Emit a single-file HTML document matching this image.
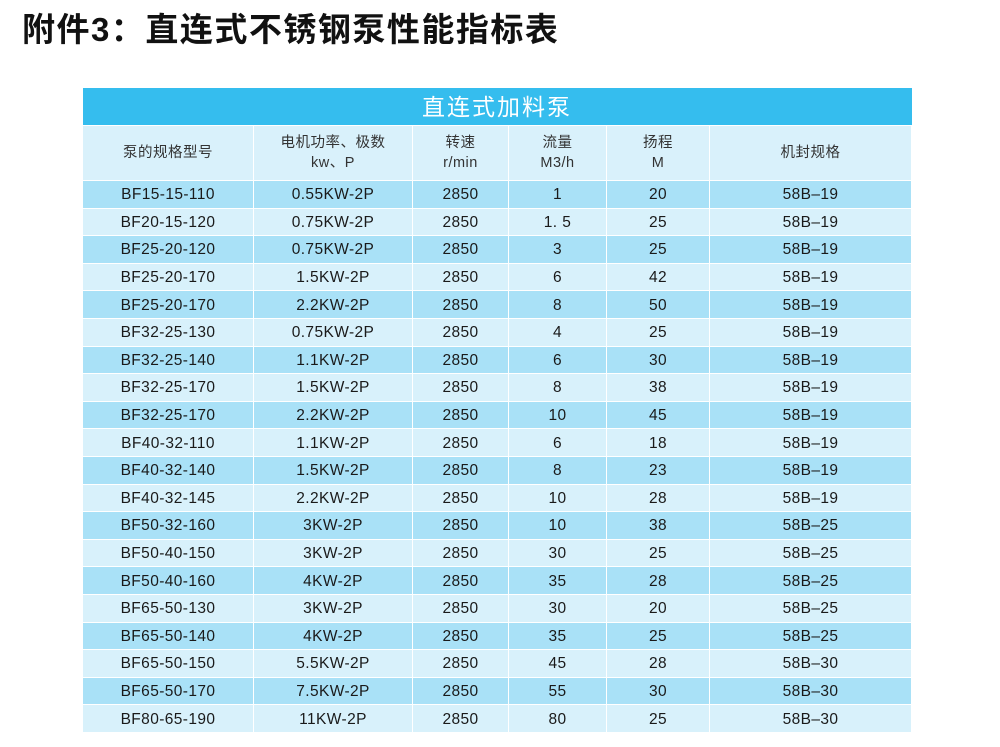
<!DOCTYPE html>
<html><head><meta charset="utf-8"><style>
body{margin:0;width:1000px;height:747px;background:#fff;position:relative;overflow:hidden;font-family:"Liberation Sans","Noto Sans CJK SC",sans-serif;}
h1{position:absolute;left:22px;top:3px;margin:0;font-size:33px;font-weight:bold;color:#111;letter-spacing:1.5px;font-family:"Liberation Sans","Noto Sans CJK SC",sans-serif;}
table{position:absolute;left:82px;top:88px;width:829px;border-collapse:collapse;table-layout:fixed;}
td{border:1px solid #fff;text-align:center;color:#1a1a1a;font-size:15.5px;letter-spacing:0.4px;padding:2px 0 0 0;height:24.6px;line-height:16px;}
tr.t td{background:#35bdee;color:#fff;font-size:23px;height:37px;letter-spacing:2px;border:none;padding:0;}
tr.h td{background:#d9f1fb;height:54px;color:#333;font-size:14.5px;line-height:20px;letter-spacing:0.5px;padding:0;}
tr.o td{background:#a9e1f7;}
tr.e td{background:#d8f1fb;}
</style></head><body>
<h1>附件3：直连式不锈钢泵性能指标表</h1>
<table>
<colgroup><col style="width:171px"><col style="width:159px"><col style="width:96px"><col style="width:98px"><col style="width:103px"><col style="width:202px"></colgroup>
<tr class="t"><td colspan="6">直连式加料泵</td></tr>
<tr class="h"><td>泵的规格型号</td><td>电机功率、极数<br>kw、P</td><td>转速<br>r/min</td><td>流量<br>M3/h</td><td>扬程<br>M</td><td>机封规格</td></tr>
<tr class="o"><td>BF15-15-110</td><td>0.55KW-2P</td><td>2850</td><td>1</td><td>20</td><td>58B–19</td></tr>
<tr class="e"><td>BF20-15-120</td><td>0.75KW-2P</td><td>2850</td><td>1. 5</td><td>25</td><td>58B–19</td></tr>
<tr class="o"><td>BF25-20-120</td><td>0.75KW-2P</td><td>2850</td><td>3</td><td>25</td><td>58B–19</td></tr>
<tr class="e"><td>BF25-20-170</td><td>1.5KW-2P</td><td>2850</td><td>6</td><td>42</td><td>58B–19</td></tr>
<tr class="o"><td>BF25-20-170</td><td>2.2KW-2P</td><td>2850</td><td>8</td><td>50</td><td>58B–19</td></tr>
<tr class="e"><td>BF32-25-130</td><td>0.75KW-2P</td><td>2850</td><td>4</td><td>25</td><td>58B–19</td></tr>
<tr class="o"><td>BF32-25-140</td><td>1.1KW-2P</td><td>2850</td><td>6</td><td>30</td><td>58B–19</td></tr>
<tr class="e"><td>BF32-25-170</td><td>1.5KW-2P</td><td>2850</td><td>8</td><td>38</td><td>58B–19</td></tr>
<tr class="o"><td>BF32-25-170</td><td>2.2KW-2P</td><td>2850</td><td>10</td><td>45</td><td>58B–19</td></tr>
<tr class="e"><td>BF40-32-110</td><td>1.1KW-2P</td><td>2850</td><td>6</td><td>18</td><td>58B–19</td></tr>
<tr class="o"><td>BF40-32-140</td><td>1.5KW-2P</td><td>2850</td><td>8</td><td>23</td><td>58B–19</td></tr>
<tr class="e"><td>BF40-32-145</td><td>2.2KW-2P</td><td>2850</td><td>10</td><td>28</td><td>58B–19</td></tr>
<tr class="o"><td>BF50-32-160</td><td>3KW-2P</td><td>2850</td><td>10</td><td>38</td><td>58B–25</td></tr>
<tr class="e"><td>BF50-40-150</td><td>3KW-2P</td><td>2850</td><td>30</td><td>25</td><td>58B–25</td></tr>
<tr class="o"><td>BF50-40-160</td><td>4KW-2P</td><td>2850</td><td>35</td><td>28</td><td>58B–25</td></tr>
<tr class="e"><td>BF65-50-130</td><td>3KW-2P</td><td>2850</td><td>30</td><td>20</td><td>58B–25</td></tr>
<tr class="o"><td>BF65-50-140</td><td>4KW-2P</td><td>2850</td><td>35</td><td>25</td><td>58B–25</td></tr>
<tr class="e"><td>BF65-50-150</td><td>5.5KW-2P</td><td>2850</td><td>45</td><td>28</td><td>58B–30</td></tr>
<tr class="o"><td>BF65-50-170</td><td>7.5KW-2P</td><td>2850</td><td>55</td><td>30</td><td>58B–30</td></tr>
<tr class="e"><td>BF80-65-190</td><td>11KW-2P</td><td>2850</td><td>80</td><td>25</td><td>58B–30</td></tr>
</table>
</body></html>
